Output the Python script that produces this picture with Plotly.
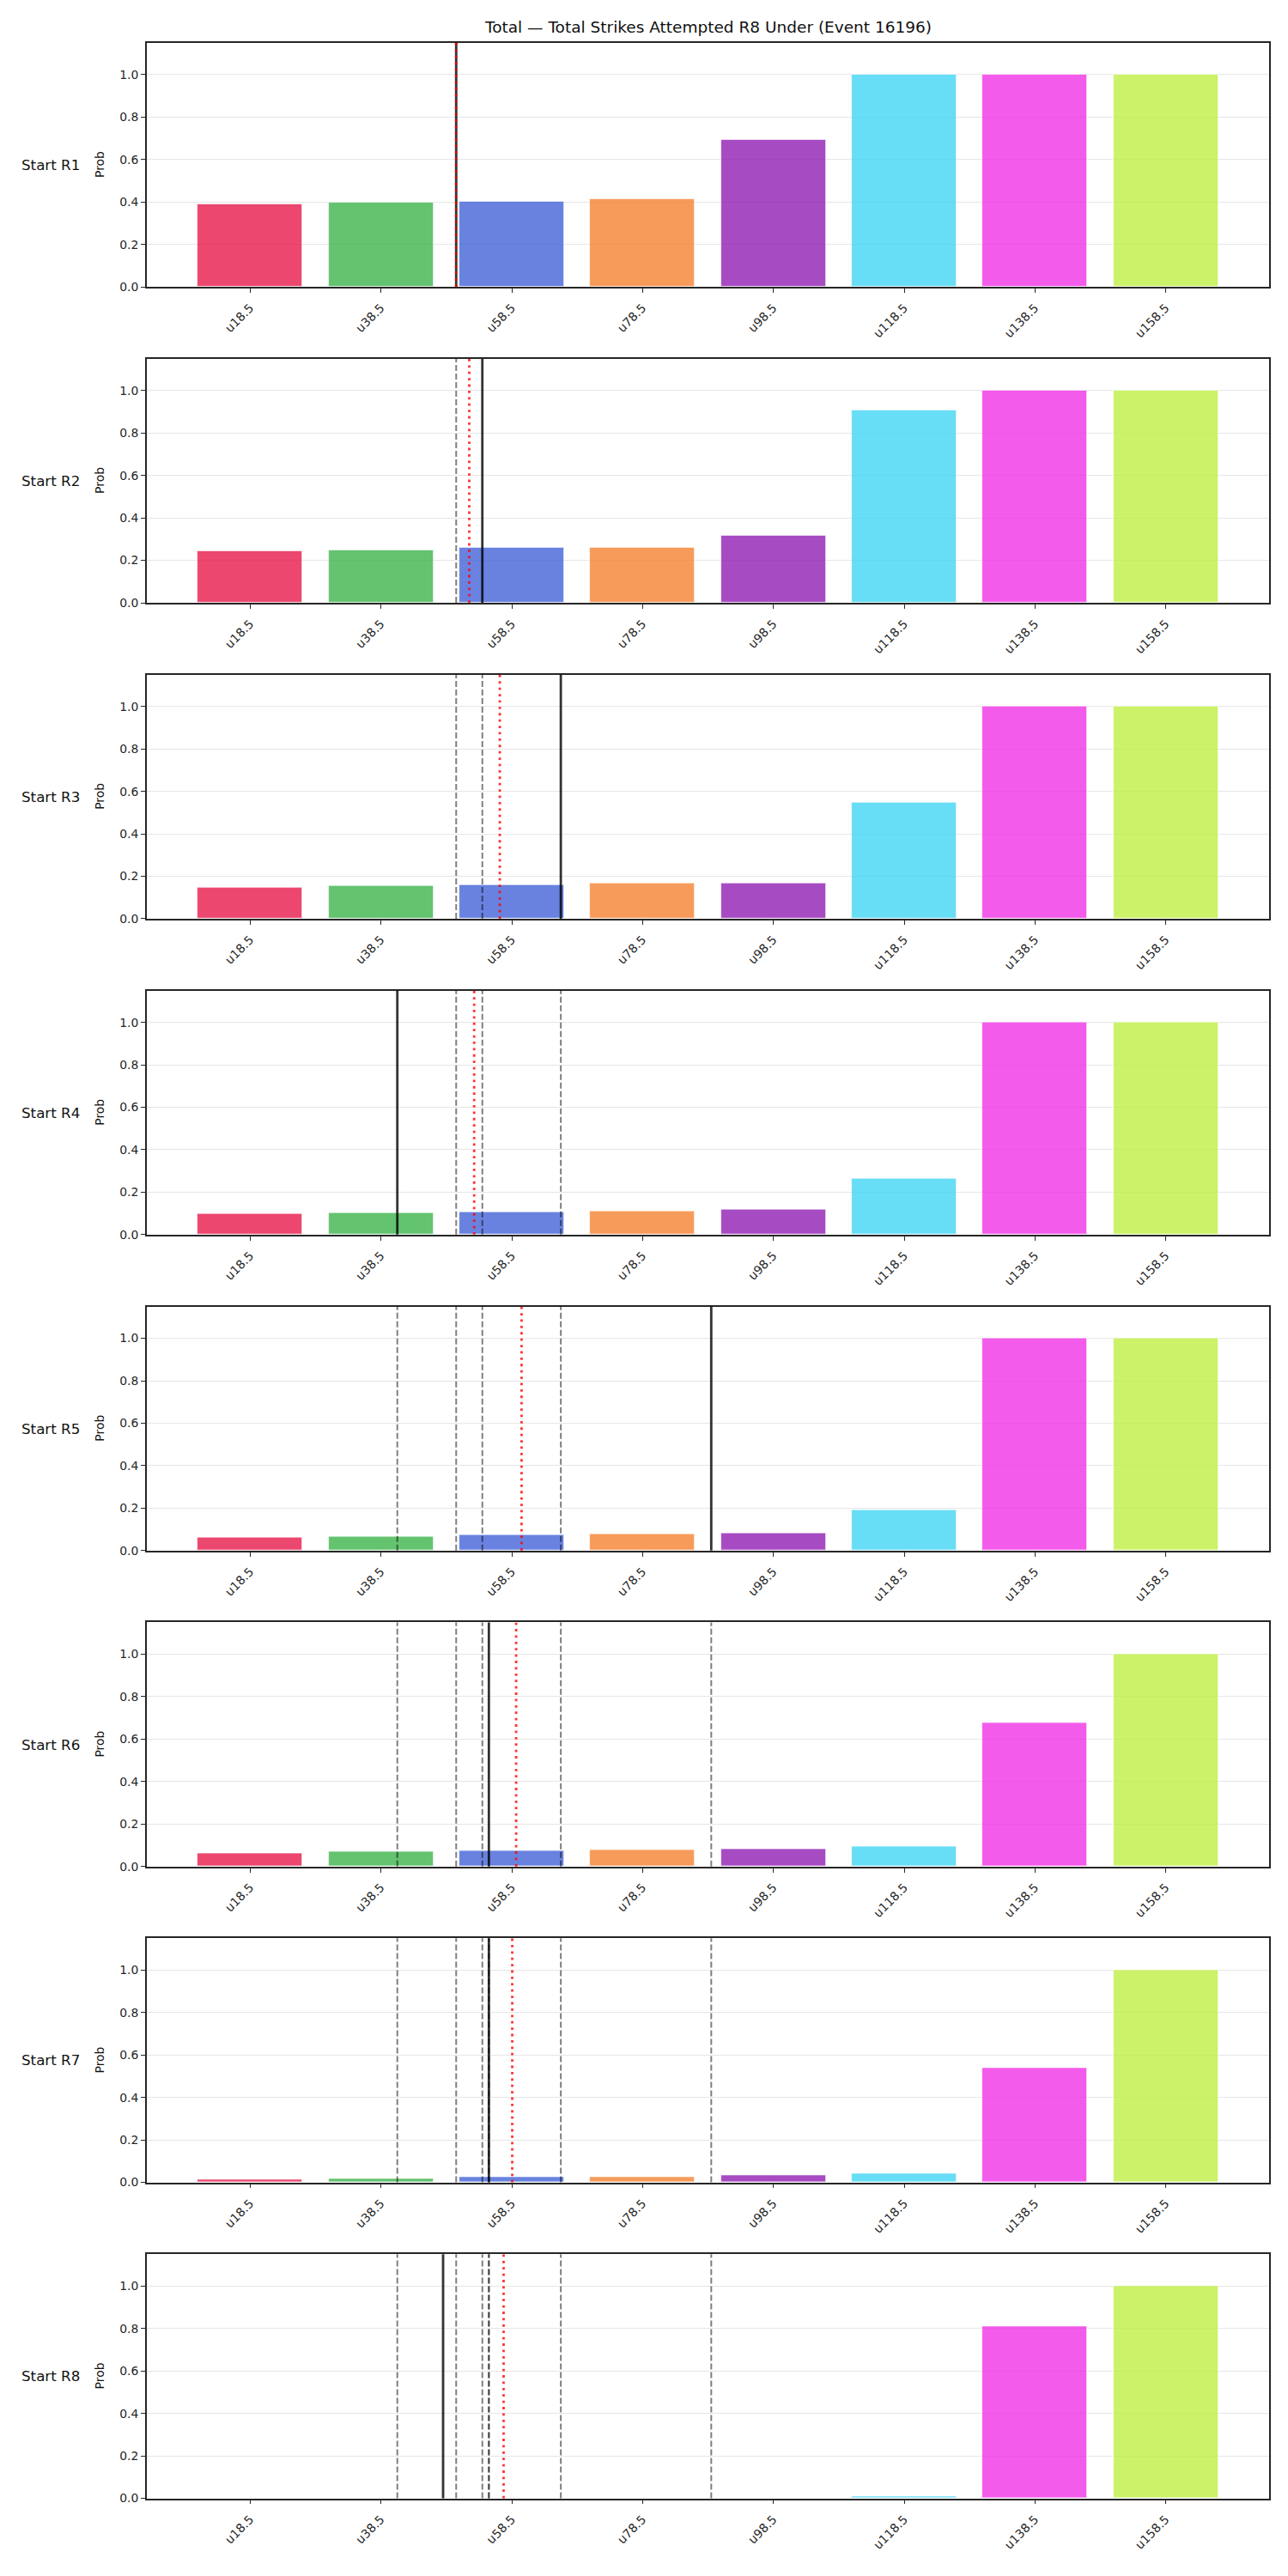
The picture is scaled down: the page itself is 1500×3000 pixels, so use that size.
import plotly.graph_objects as go
from plotly.subplots import make_subplots

# ---------------- data ----------------
title_text = "Total \u2014 Total Strikes Attempted R8 Under (Event 16196)"
thresholds = [18.5, 38.5, 58.5, 78.5, 98.5, 118.5, 138.5, 158.5]
tick_labels = ["u18.5", "u38.5", "u58.5", "u78.5", "u98.5", "u118.5", "u138.5", "u158.5"]
row_labels = ["Start R1", "Start R2", "Start R3", "Start R4",
              "Start R5", "Start R6", "Start R7", "Start R8"]
bar_colors = ["#e6194b", "#3cb44b", "#4363d8", "#f58231",
              "#911eb4", "#42d4f4", "#f032e6", "#bfef45"]

probs_r1 = [0.390, 0.398, 0.402, 0.414, 0.693, 1.000, 1.000, 1.000]
probs_r2 = [0.245, 0.249, 0.258, 0.261, 0.316, 0.906, 1.000, 1.000]
probs_r3 = [0.148, 0.153, 0.157, 0.165, 0.168, 0.547, 1.000, 1.000]
probs_r4 = [0.098, 0.102, 0.106, 0.111, 0.118, 0.263, 1.000, 1.000]
probs_r5 = [0.062, 0.067, 0.072, 0.076, 0.080, 0.193, 1.000, 1.000]
probs_r6 = [0.062, 0.070, 0.074, 0.078, 0.083, 0.096, 0.676, 1.000]
probs_r7 = [0.012, 0.018, 0.026, 0.026, 0.035, 0.040, 0.540, 1.000]
probs_r8 = [0.0005, 0.001, 0.001, 0.001, 0.002, 0.011, 0.812, 1.000]
probs_by_start = [probs_r1, probs_r2, probs_r3, probs_r4,
                  probs_r5, probs_r6, probs_r7, probs_r8]

# strikes in each round (solid line for the current round, dashed for earlier ones)
round_strikes = [50, 54, 66, 41, 89, 55, 55, 48]
# running average through each round (red dotted line)
running_mean = [50.0, 52.0, 56.67, 52.75, 60.0, 59.17, 58.57, 57.25]

# ---------------- layout geometry ----------------
W, H = 1500, 3000
X0, X1 = 171, 1478
TOP0, STEP, PH = 50, 368.9, 285
INK = "#262626"
FONT = "DejaVu Sans"


def rgba(hex_color, a):
    h = hex_color.lstrip("#")
    r, g, b = int(h[0:2], 16), int(h[2:4], 16), int(h[4:6], 16)
    return f"rgba({r},{g},{b},{a})"


n = len(row_labels)
fig = make_subplots(rows=n, cols=1)

shapes = []
annotations = []

for k in range(n):
    fig.add_trace(
        go.Bar(
            x=thresholds,
            y=probs_by_start[k],
            width=16,
            marker=dict(color=[rgba(c, 0.8) for c in bar_colors],
                        line=dict(color="rgba(255,255,255,0.8)", width=0.8)),
            showlegend=False,
            hoverinfo="x+y",
        ),
        row=k + 1, col=1,
    )

    top = TOP0 + STEP * k
    bottom = top + PH
    ydom = [1 - bottom / H, 1 - top / H]
    sfx = "" if k == 0 else str(k + 1)

    fig.update_layout(**{
        f"xaxis{sfx}": dict(
            domain=[X0 / W, X1 / W],
            range=[2.7, 174.3],
            tickmode="array", tickvals=thresholds, ticktext=tick_labels,
            tickangle=-45,
            ticks="outside", ticklen=5, tickwidth=1.3, tickcolor=INK,
            ticklabelstandoff=4,
            showline=True, linecolor=INK, linewidth=1.7, mirror=True,
            showgrid=False, zeroline=False,
            tickfont=dict(family=FONT, size=14, color=INK),
            anchor=f"y{sfx}",
        ),
        f"yaxis{sfx}": dict(
            domain=ydom,
            range=[0, 1.15],
            tickmode="array", tickvals=[0, 0.2, 0.4, 0.6, 0.8, 1.0],
            tickformat=".1f",
            ticks="outside", ticklen=5, tickwidth=1.3, tickcolor=INK,
            showline=True, linecolor=INK, linewidth=1.7, mirror=True,
            showgrid=True, gridcolor="#e6e6e6", gridwidth=1.1,
            zeroline=False,
            tickfont=dict(family=FONT, size=13.9, color=INK),
            anchor=f"x{sfx}",
        ),
    })

    xref = f"x{sfx}"
    yref = f"y{sfx} domain"
    # earlier rounds: dashed gray
    for j in range(k):
        shapes.append(dict(type="line", xref=xref, yref=yref,
                           x0=round_strikes[j], x1=round_strikes[j], y0=0, y1=1,
                           line=dict(color="rgba(0,0,0,0.5)", width=2, dash="7px,3px")))
    # current round: solid dark
    shapes.append(dict(type="line", xref=xref, yref=yref,
                       x0=round_strikes[k], x1=round_strikes[k], y0=0, y1=1,
                       line=dict(color="rgba(0,0,0,0.8)", width=2.8)))
    # running average: red dotted
    shapes.append(dict(type="line", xref=xref, yref=yref,
                       x0=running_mean[k], x1=running_mean[k], y0=0, y1=1,
                       line=dict(color="rgba(255,0,0,0.8)", width=2.8, dash="2.8px,4.6px")))

    ymid = 1 - (top + PH / 2) / H
    annotations.append(dict(text=row_labels[k], xref="paper", yref="paper",
                            x=23 / W, y=ymid, xanchor="left", yanchor="middle",
                            showarrow=False,
                            font=dict(family=FONT, size=16.7, color="#111")))
    annotations.append(dict(text="Prob", xref="paper", yref="paper",
                            x=116 / W, y=ymid, xanchor="center", yanchor="middle",
                            textangle=-90, showarrow=False,
                            font=dict(family=FONT, size=13.9, color="#111")))

annotations.append(dict(text=title_text, xref="paper", yref="paper",
                        x=(X0 + X1) / 2 / W, y=1 - 32 / H,
                        xanchor="center", yanchor="middle", showarrow=False,
                        font=dict(family=FONT, size=18.5, color="#111")))

fig.update_layout(
    width=W, height=H,
    margin=dict(l=0, r=0, t=0, b=0),
    paper_bgcolor="white", plot_bgcolor="white",
    shapes=shapes, annotations=annotations,
    bargap=0, showlegend=False,
    font=dict(family=FONT, size=13.9, color=INK),
)

fig.write_html("out.html")
